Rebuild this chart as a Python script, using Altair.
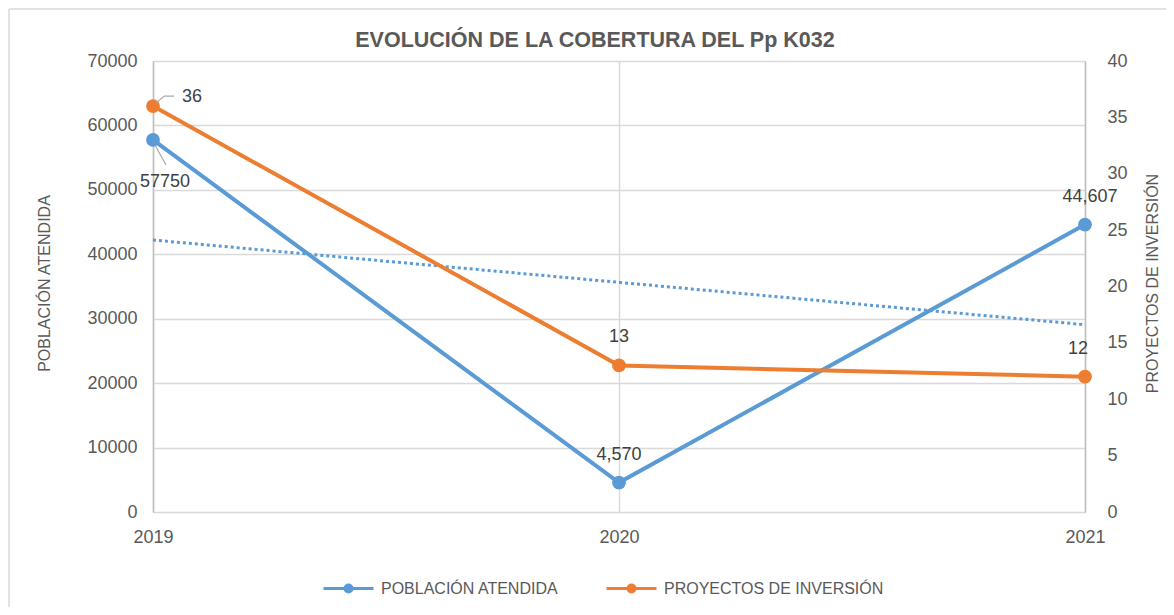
import altair as alt
import pandas as pd

years = [2019, 2020, 2021]
poblacion = [57750, 4570, 44607]
proyectos = [36, 13, 12]
pob_labels = ["57750", "4,570", "44,607"]
proy_labels = ["36", "13", "12"]
series = ["POBLACIÓN ATENDIDA", "PROYECTOS DE INVERSIÓN"]
colors = ["#5B9BD5", "#ED7D31"]
left_ticks = [0, 10000, 20000, 30000, 40000, 50000, 60000, 70000]
right_ticks = [0, 5, 10, 15, 20, 25, 30, 35, 40]
title_text = "EVOLUCIÓN DE LA COBERTURA DEL Pp K032"

df = pd.DataFrame({"year": years, "pob": poblacion, "proy": proyectos,
                   "pob_lab": pob_labels, "proy_lab": proy_labels,
                   "s_pob": [series[0]] * 3, "s_proy": [series[1]] * 3})

FONT = "Liberation Sans"
GRID = "#D9D9D9"
AXC = "#BFBFBF"
TXT = "#595959"
LAB = "#404040"

base = alt.Chart(df)

X = alt.X("year:O", scale=alt.Scale(type="point", domain=years, padding=0),
          axis=alt.Axis(title=None, grid=True, gridColor=GRID, labelAngle=0,
                        gridWidth=1.5, domain=False, ticks=False, labelPadding=16,
                        labelFontSize=18, labelFont=FONT, labelColor=TXT))

YL = alt.Y("pob:Q", scale=alt.Scale(domain=[0, 70000], nice=False),
           axis=alt.Axis(values=left_ticks, format="d", title="POBLACIÓN ATENDIDA",
                         grid=True, gridColor=GRID, gridWidth=1.5, domainColor=AXC,
                         domainWidth=1.5, ticks=False, labelPadding=16, labelFontSize=18,
                         labelFont=FONT, labelColor=TXT, titleFont=FONT, titleFontSize=16,
                         titleFontWeight="normal", titleColor=TXT, titleAngle=270,
                         titleX=-109, titleY=222, titleBaseline="middle"))

YR = alt.Y("proy:Q", scale=alt.Scale(domain=[0, 40], nice=False),
           axis=alt.Axis(orient="right", values=right_ticks, format="d",
                         title="PROYECTOS DE INVERSIÓN", grid=False, domainColor=AXC,
                         domainWidth=1.5, ticks=False, labelPadding=22, labelFontSize=18,
                         labelFont=FONT, labelColor=TXT, titleFont=FONT, titleFontSize=16,
                         titleFontWeight="normal", titleColor=TXT, titleAngle=270,
                         titleX=67, titleY=222, titleBaseline="middle"))

sym = "M-1,0L1,0M-0.14,0A0.14,0.14,0,1,1,0.14,0A0.14,0.14,0,1,1,-0.14,0Z"
legend = alt.Legend(title=None, orient="none", legendX=169, legendY=501,
                    direction="horizontal", symbolType=sym, symbolSize=2500,
                    symbolStrokeWidth=3, labelFontSize=16, labelFont=FONT,
                    labelColor=TXT, labelOffset=6, columnPadding=41, labelLimit=400)
cscale = alt.Scale(domain=series, range=colors)

blue_line = base.mark_line(strokeWidth=4, point=alt.OverlayMarkDef(filled=True, size=190)).encode(
    x=X, y=YL, color=alt.Color("s_pob:N", scale=cscale, legend=legend))
trend = base.transform_regression("year", "pob", extent=[2019, 2021]).mark_line(
    color=colors[0], strokeWidth=3, strokeDash=[3, 3]).encode(x=X, y=YL)

def lab(field, yenc, yr, dx, dy):
    return base.transform_filter(alt.datum.year == yr).mark_text(
        font=FONT, fontSize=18, color=LAB, dx=dx, dy=dy).encode(x=X, y=yenc, text=field + ":N")

blue_labels = [lab("pob_lab", YL, 2019, 12, 42), lab("pob_lab", YL, 2020, 0, -28),
               lab("pob_lab", YL, 2021, 5, -28)]
lead_b = base.transform_filter(alt.datum.year == 2019).mark_rule(
    color="#A6A6A6", strokeWidth=1.2, xOffset=2, yOffset=5, x2Offset=13, y2Offset=25).encode(
    x=X, x2="year:O", y=YL, y2="pob:Q")

left = alt.layer(trend, blue_line, lead_b, *blue_labels)

orange_line = base.mark_line(strokeWidth=4, point=alt.OverlayMarkDef(filled=True, size=190)).encode(
    x=X, y=YR, color=alt.Color("s_proy:N", scale=cscale, legend=legend))
orange_labels = [lab("proy_lab", YR, 2019, 39, -9), lab("proy_lab", YR, 2020, 0, -28),
                 lab("proy_lab", YR, 2021, -7, -28)]
lead_o1 = base.transform_filter(alt.datum.year == 2019).mark_rule(
    color="#A6A6A6", strokeWidth=1.2, xOffset=3, yOffset=-3, x2Offset=11, y2Offset=-10).encode(
    x=X, x2="year:O", y=YR, y2="proy:Q")
lead_o2 = base.transform_filter(alt.datum.year == 2019).mark_rule(
    color="#A6A6A6", strokeWidth=1.2, xOffset=11, yOffset=-10, x2Offset=21, y2Offset=-10).encode(
    x=X, x2="year:O", y=YR, y2="proy:Q")

right = alt.layer(orange_line, lead_o1, lead_o2, *orange_labels)

frame_df = pd.DataFrame({"t": [title_text]})
frame_top = alt.Chart(frame_df).mark_rule(color=GRID, strokeWidth=1.5).encode(
    x=alt.value(-144), x2=alt.value(1020), y=alt.value(-52))
frame_left = alt.Chart(frame_df).mark_rule(color=GRID, strokeWidth=1.5).encode(
    x=alt.value(-144), y=alt.value(-52), y2=alt.value(560))
title_mark = alt.Chart(frame_df).mark_text(
    font=FONT, fontSize=21.5, fontWeight="bold", color=TXT, align="center", baseline="middle").encode(
    x=alt.value(442), y=alt.value(-20), text="t:N")

chart = alt.layer(left, right, frame_top, frame_left, title_mark).resolve_scale(y="independent").properties(
    width=932, height=451,
    padding={"left": 145, "top": 53, "right": 81, "bottom": 95},
    autosize=alt.AutoSizeParams(type="none"),
).configure_view(stroke=None).configure(background="white")

chart.save("out.html", embed_options={"renderer": "svg", "actions": False})
